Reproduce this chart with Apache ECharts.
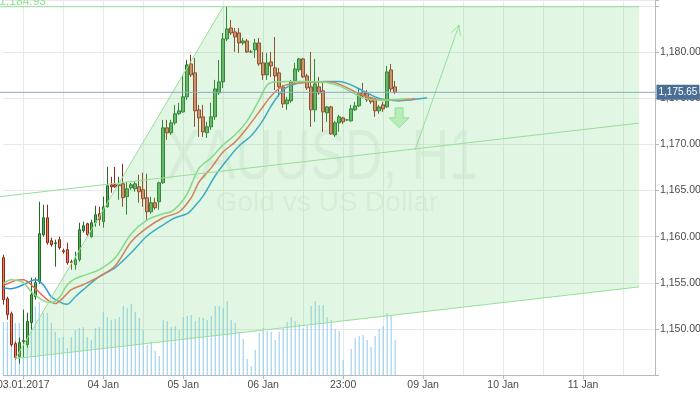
<!DOCTYPE html>
<html><head><meta charset="utf-8">
<script src="https://cdn.jsdelivr.net/npm/echarts@6/dist/echarts.min.js"></script>
<style>html,body{margin:0;padding:0;background:#fff}#c{width:700px;height:394px}</style>
</head><body><div id="c"></div>
<script>
// ---- hourly XAUUSD bars ----
const opens = [1157.72,1153.28,1151.65,1148.40,1147.00,1148.62,1148.29,1150.68,1153.49,1155.12,
1160.21,1162.05,1159.56,1159.24,1159.67,1158.48,1158.59,1157.28,1156.96,1157.50,
1160.64,1161.40,1159.99,1161.51,1162.49,1161.62,1163.24,1165.62,1165.62,1165.52,
1165.73,1164.33,1165.30,1165.19,1165.41,1165.09,1164.22,1162.70,1163.68,1163.79,
1165.84,1171.80,1171.26,1172.34,1173.32,1173.53,1175.16,1178.73,1177.76,1173.75,
1172.99,1171.26,1171.91,1172.99,1175.59,1176.78,1181.44,1182.63,1182.20,1182.09,
1181.00,1181.22,1180.03,1180.25,1181.00,1178.84,1177.54,1178.95,1178.30,1177.76,
1176.24,1174.40,1174.72,1176.89,1178.08,1179.27,1177.43,1176.24,1173.75,1176.24,
1175.81,1173.42,1174.07,1171.04,1172.34,1172.88,1172.66,1172.56,1173.75,1174.18,
1175.70,1175.59,1174.94,1174.83,1173.64,1174.29,1174.07,1178.08,1176.24];
const closes = [1153.17,1151.54,1148.29,1146.89,1148.51,1148.73,1150.79,1153.71,1155.01,1160.32,
1162.05,1159.34,1159.13,1159.34,1158.80,1158.37,1157.18,1157.18,1157.50,1160.75,
1161.18,1160.21,1161.51,1162.38,1161.83,1163.24,1165.52,1165.41,1165.41,1165.62,
1164.22,1165.19,1165.62,1165.73,1164.87,1164.11,1162.70,1163.68,1163.14,1165.84,
1171.80,1171.26,1172.34,1173.32,1173.64,1175.16,1178.62,1177.54,1173.64,1172.88,
1171.36,1171.91,1172.99,1176.02,1176.78,1181.44,1182.52,1182.09,1181.65,1181.00,
1181.22,1180.03,1180.03,1181.00,1178.73,1177.54,1178.84,1178.51,1177.43,1176.24,
1174.40,1174.83,1176.78,1178.19,1179.27,1177.32,1176.13,1173.75,1176.56,1175.59,
1173.53,1174.07,1171.15,1172.34,1172.99,1172.45,1172.66,1173.86,1174.18,1175.59,
1175.26,1174.83,1174.62,1173.64,1174.07,1173.86,1177.86,1176.02,1175.65];
const lows = [1152.63,1151.00,1148.08,1146.67,1146.24,1146.89,1147.97,1149.92,1153.17,1154.90,
1159.99,1159.13,1158.91,1156.74,1158.59,1158.15,1156.96,1156.42,1156.42,1157.28,
1160.43,1159.99,1159.89,1161.08,1161.18,1160.97,1163.14,1164.76,1165.30,1164.00,
1163.24,1162.38,1165.09,1164.87,1163.68,1163.24,1161.83,1162.49,1162.92,1162.92,
1165.73,1170.50,1171.04,1172.12,1173.21,1173.42,1174.83,1177.32,1171.91,1170.82,
1170.82,1170.71,1171.58,1172.66,1175.37,1176.13,1181.22,1181.87,1180.03,1179.92,
1180.79,1179.92,1179.92,1179.38,1178.51,1177.00,1177.00,1177.32,1175.91,1175.16,
1173.97,1173.75,1174.51,1176.67,1177.86,1177.21,1175.91,1171.91,1172.45,1175.37,
1171.36,1172.45,1171.04,1170.82,1171.36,1172.23,1172.56,1172.45,1173.64,1174.07,
1175.05,1174.62,1174.40,1172.99,1173.32,1173.53,1173.97,1175.70,1175.48];
const highs = [1158.04,1153.49,1151.87,1148.62,1149.05,1152.09,1151.76,1155.55,1155.55,1163.79,
1163.46,1163.46,1159.89,1159.67,1159.99,1158.70,1159.34,1157.50,1158.37,1161.51,
1161.62,1161.51,1161.83,1163.35,1163.24,1164.33,1167.57,1166.49,1167.57,1166.49,
1167.90,1165.95,1165.84,1165.95,1166.71,1166.93,1166.82,1164.33,1164.22,1165.95,
1172.66,1172.66,1172.66,1174.29,1174.51,1177.54,1179.16,1179.70,1179.38,1174.29,
1174.29,1172.45,1174.51,1177.00,1179.16,1182.09,1184.93,1183.49,1182.63,1182.63,
1181.54,1181.44,1180.25,1181.44,1181.54,1180.03,1179.92,1180.03,1181.65,1178.30,
1176.45,1175.16,1177.00,1178.84,1179.38,1179.38,1177.65,1180.03,1179.27,1177.32,
1176.67,1174.18,1174.18,1172.56,1173.21,1172.99,1172.77,1174.29,1174.62,1176.13,
1176.67,1175.91,1175.16,1175.05,1174.29,1174.62,1178.51,1178.73,1176.89];
const volumes = [2120,2120,2120,2080,2080,2320,2480,2600,2760,2920,
2480,2480,2080,1720,1480,1520,1080,1520,1800,1880,
1920,1520,1400,1880,1920,2520,2320,2200,2240,2320,
2760,2680,2840,2520,2280,1800,1200,1320,960,760,
2200,2160,1920,1960,1800,2320,2360,2400,2160,2320,
2280,2200,2360,2760,2760,2680,2960,2200,2080,1720,
1440,640,360,1000,1680,1880,1760,1720,1400,1720,
1880,2120,2320,2160,2040,1880,1960,2760,2960,2800,
2800,2320,2200,1840,1760,600,0,1040,1480,1560,
1600,1400,1120,1560,1840,1960,2480,2360,1400];
const lastPrice = 1175.65;

// ---- Alligator lines (bar index, price) ----
const lipsIdx = [0,2,5,7,10,12,14,16,18,20,24,28,32,36,40,42,44,46,49,52,55,58,61,64,66,68,72,76,80,84,87,90,93,97,101];
const lipsVal = [1154.90,1155.33,1155.01,1154.03,1153.06,1152.85,1153.39,1154.79,1155.44,1155.77,1156.42,1157.72,1160.32,1161.83,1162.49,1162.70,1163.46,1164.65,1167.46,1168.55,1169.96,1171.04,1172.56,1174.83,1176.45,1176.78,1176.81,1176.81,1176.78,1176.35,1175.70,1175.05,1174.83,1174.83,1174.94];
const teethIdx = [0,3,5,8,11,13,15,17,20,24,28,32,36,40,44,47,49,52,55,58,61,64,67,70,74,78,82,85,88,91,95,99,103];
const teethVal = [1154.69,1155.23,1155.34,1154.36,1153.17,1152.74,1153.39,1154.25,1154.79,1155.66,1156.85,1159.45,1160.97,1162.05,1162.70,1164.22,1165.95,1167.46,1169.20,1170.28,1171.80,1173.53,1175.26,1176.35,1176.67,1176.78,1176.78,1176.35,1175.70,1175.16,1174.83,1174.83,1174.99];
const jawIdx = [0,2,5,8,10,12,15,16,18,20,24,28,32,36,40,43,46,48,50,53,56,59,62,65,67,70,73,77,81,84,87,90,93,96,99,102,106];
const jawVal = [1154.47,1154.36,1154.79,1155.34,1154.79,1153.49,1152.74,1152.68,1153.49,1154.25,1155.66,1156.64,1158.26,1160.10,1161.29,1162.05,1162.49,1163.35,1164.43,1166.60,1168.33,1169.85,1170.93,1172.66,1174.18,1175.91,1176.56,1176.78,1176.81,1176.81,1176.45,1175.81,1175.16,1174.83,1174.72,1174.83,1175.05];

// ---- drawings (bar index, price) ----
const topLevel = 1184.93;
const topLineIdx = [-0.825, 159];
const chBottomIdx = [2.93, 159];
const chBottomVal = [1146.78, 1154.55];
const chMidIdx = [-0.825, 159];
const chMidVal = [1164.33, 1172.31];
const chLeftIdx = [2.93, 54.55];
const chLeftVal = [1146.78, 1184.93];
const arrowUpIdx = [103.35, 114.2];
const arrowUpVal = [1169.42, 1182.96];
const arrowDownIdx = [99.2, 99.2];
const arrowDownVal = [1173.97, 1171.80];

// ---- axis ticks ----
const tickIndex = [5,25,45,65,85,105,125,145];
const tickText = ['03.01.2017','04 Jan','05 Jan','06 Jan','23:00','09 Jan','10 Jan','11 Jan'];
const barCount = 164;

const FF = "'Liberation Sans Narrow','Arial Narrow','Liberation Sans',Arial,sans-serif";
const fmt = v => { const p = v.toFixed(2).split('.'); return p[0].replace(/\B(?=(\d{3})+$)/g, ',') + '.' + p[1]; };
const cats = Array.from({length: barCount}, (_, i) => String(i));
const candleData = opens.map((o, i) => [o, closes[i], lows[i], highs[i]]);
const pairs = (a, b) => a.map((x, k) => [x, b[k]]);

function renderDrawings(params, api) {
  const P = (i, v) => api.coord([i, v]);
  const green = '#96df98';
  const ls = {stroke: green, lineWidth: 1, fill: null};
  const kids = [];
  kids.push({type: 'polygon', shape: {points: [
    P(chBottomIdx[0], chBottomVal[0]), P(chLeftIdx[1], chLeftVal[1]),
    P(topLineIdx[1], topLevel), P(chBottomIdx[1], chBottomVal[1])]},
    style: {fill: 'rgba(130,220,140,0.24)'}});
  const seg = (a, b) => ({type: 'line', shape: {x1: a[0], y1: a[1], x2: b[0], y2: b[1]}, style: ls});
  kids.push(seg(P(topLineIdx[0], topLevel), P(topLineIdx[1], topLevel)));
  kids.push(seg(P(chBottomIdx[0], chBottomVal[0]), P(chBottomIdx[1], chBottomVal[1])));
  kids.push(seg(P(chMidIdx[0], chMidVal[0]), P(chMidIdx[1], chMidVal[1])));
  kids.push(seg(P(chLeftIdx[0], chLeftVal[0]), P(chLeftIdx[1], chLeftVal[1])));
  const tl = P(topLineIdx[0], topLevel);
  kids.push({type: 'text', x: tl[0], y: tl[1] + 0.5, style: {text: fmt(topLevel), fill: green, font: '12px ' + FF, align: 'left', verticalAlign: 'bottom'}});
  const a0 = P(arrowUpIdx[0], arrowUpVal[0]), a1 = P(arrowUpIdx[1], arrowUpVal[1]);
  kids.push(seg(a0, a1));
  const dx = a0[0] - a1[0], dy = a0[1] - a1[1], L = Math.hypot(dx, dy);
  const ux = dx / L, uy = dy / L, w = 11, ang = 0.45;
  [ang, -ang].forEach(t => {
    const rx = ux * Math.cos(t) - uy * Math.sin(t), ry = ux * Math.sin(t) + uy * Math.cos(t);
    kids.push(seg(a1, [a1[0] + rx * w, a1[1] + ry * w]));
  });
  const d0 = P(arrowDownIdx[0], arrowDownVal[0]), d1 = P(arrowDownIdx[1], arrowDownVal[1]);
  const h = d1[1] - d0[1], cx = d0[0];
  kids.push({type: 'polygon', shape: {points: [
    [cx - 4, d0[1]], [cx + 4, d0[1]], [cx + 4, d0[1] + h / 2], [cx + 10, d0[1] + h / 2],
    [cx, d1[1]], [cx - 10, d0[1] + h / 2], [cx - 4, d0[1] + h / 2]]},
    style: {fill: 'rgba(150,225,150,0.55)', stroke: 'rgba(130,215,130,0.7)', lineWidth: 1}});
  const p0 = P(-0.825, lastPrice), p1 = P(barCount - 1, lastPrice);
  kids.push({type: 'line', shape: {x1: p0[0], y1: p0[1], x2: p1[0], y2: p1[1]}, style: {stroke: '#8ea8c3', lineWidth: 1}});
  kids.push({type: 'text', x: p1[0] + 1.5, y: p1[1], style: {text: fmt(lastPrice), fill: '#fff', font: '10px ' + FF,
    align: 'left', verticalAlign: 'middle', backgroundColor: '#4a6e96', padding: [3, 2, 2, 2]}});
  return {type: 'group', children: kids};
}

const chart = echarts.init(document.getElementById('c'));
chart.setOption({
  animation: false,
  grid: {left: 3.3, right: 45, top: 0, bottom: 19, containLabel: false, outerBoundsMode: 'none'},
  graphic: [
    {type: 'text', x: 322, y: 160, scaleY: 1.35, z: 0,
      style: {text: 'XAUUSD, H1', font: '52px "Liberation Sans", Arial, sans-serif', fill: 'rgba(0,40,0,0.06)', align: 'center', verticalAlign: 'middle'}},
    {type: 'text', x: 327, y: 203, z: 0,
      style: {text: 'Gold vs US Dollar', font: '28px "Liberation Sans", Arial, sans-serif', fill: 'rgba(0,40,0,0.06)', align: 'center', verticalAlign: 'middle'}}
  ],
  xAxis: {
    type: 'category', data: cats, boundaryGap: false,
    axisLine: {show: true, lineStyle: {color: '#b4b8c0'}},
    axisTick: {show: true, length: 4, interval: i => tickIndex.includes(i), lineStyle: {color: '#b4b8c0'}},
    axisLabel: {interval: i => tickIndex.includes(i), formatter: (v, i) => { const k = tickIndex.indexOf(i); return k >= 0 ? tickText[k] : ''; },
      color: '#4a4a4a', fontSize: 10.5, fontFamily: FF, margin: 5},
    splitLine: {show: true, interval: i => i % 10 === 5, lineStyle: {color: '#e8e8e8'}}
  },
  yAxis: [
    {type: 'value', position: 'right', min: 1145, max: 1185.66, interval: 5,
      axisLine: {show: true, lineStyle: {color: '#b4b8c0'}},
      axisTick: {show: true, length: 4, lineStyle: {color: '#b4b8c0'}},
      axisLabel: {margin: 5, color: '#4a4a4a', fontSize: 10.5, fontFamily: FF,
        formatter: v => (v >= 1150 && v <= 1180 && Math.abs(v % 5) < 1e-6) ? fmt(v) : ''},
      splitLine: {show: true, lineStyle: {color: '#e8e8e8'}}},
    {type: 'value', min: 0, max: 15000, show: false}
  ],
  series: [
    {type: 'bar', yAxisIndex: 1, data: volumes, barWidth: 1, itemStyle: {color: '#8ec9ea'}, z: 1, silent: true},
    {type: 'candlestick', data: candleData, barWidth: 3, z: 3, silent: true,
      itemStyle: {color: '#5aae5a', color0: '#ee7a5e', borderColor: '#1f6e1f', borderColor0: '#8e2a18', borderWidth: 1}},
    {type: 'line', data: pairs(jawIdx, jawVal), smooth: 0.3, showSymbol: false, z: 4, silent: true, lineStyle: {color: '#2a9ad6', width: 1.5}},
    {type: 'line', data: pairs(teethIdx, teethVal), smooth: 0.3, showSymbol: false, z: 4, silent: true, lineStyle: {color: '#ec6450', width: 1.5}},
    {type: 'line', data: pairs(lipsIdx, lipsVal), smooth: 0.3, showSymbol: false, z: 4, silent: true, lineStyle: {color: '#86d886', width: 1.5}},
    {type: 'custom', data: [[0]], renderItem: renderDrawings, z: 6, silent: true}
  ]
});
</script>
</body></html>
